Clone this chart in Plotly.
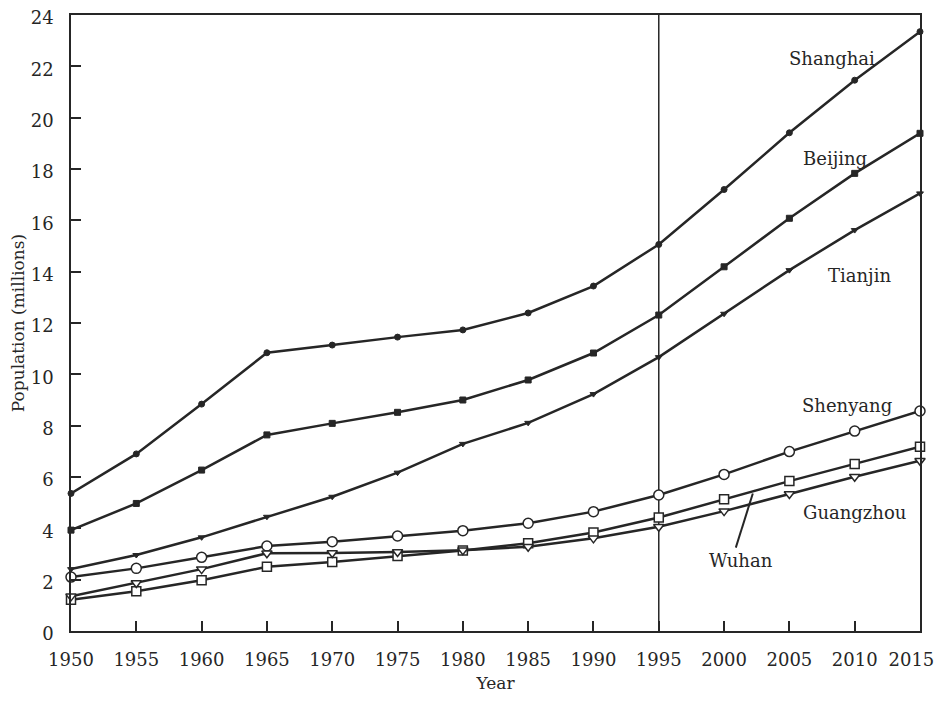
import plotly.graph_objects as go

years = [1950, 1955, 1960, 1965, 1970, 1975, 1980, 1985, 1990, 1995, 2000, 2005, 2010, 2015]
shanghai = [5.36, 6.9, 8.84, 10.84, 11.14, 11.45, 11.73, 12.39, 13.44, 15.06, 17.2, 19.41, 21.46, 23.35]
beijing = [3.93, 4.97, 6.27, 7.64, 8.09, 8.52, 9.0, 9.78, 10.83, 12.31, 14.19, 16.08, 17.83, 19.39]
tianjin = [2.41, 2.96, 3.65, 4.45, 5.23, 6.17, 7.29, 8.11, 9.23, 10.67, 12.36, 14.06, 15.62, 17.05]
shenyang = [2.1, 2.44, 2.87, 3.31, 3.48, 3.7, 3.91, 4.2, 4.65, 5.3, 6.1, 6.99, 7.79, 8.57]
wuhan = [1.22, 1.55, 1.98, 2.5, 2.69, 2.92, 3.14, 3.42, 3.84, 4.42, 5.13, 5.84, 6.51, 7.18]
guangzhou = [1.35, 1.87, 2.41, 3.03, 3.04, 3.08, 3.15, 3.28, 3.61, 4.06, 4.67, 5.34, 6.01, 6.63]
y_ticks = list(range(0, 25, 2))

INK = "#262626"
FONT = "DejaVu Serif"

# last year label padded so it is not clipped at the window edge
x_ticktext = [str(y) for y in years]
x_ticktext[-1] = x_ticktext[-1] + "&nbsp;&nbsp;&nbsp;"

series = [
    ("Shanghai", shanghai, dict(symbol="circle", size=6, color=INK, line=dict(color=INK, width=1))),
    ("Beijing", beijing, dict(symbol="square", size=6, color=INK, line=dict(color=INK, width=1))),
    ("Tianjin", tianjin, dict(symbol="triangle-down", size=6, color=INK, line=dict(color=INK, width=1))),
    ("Shenyang", shenyang, dict(symbol="circle", size=10, color="white", line=dict(color=INK, width=1.5))),
    ("Wuhan", wuhan, dict(symbol="square", size=9, color="white", line=dict(color=INK, width=1.5))),
    ("Guangzhou", guangzhou, dict(symbol="triangle-down", size=9, color="white", line=dict(color=INK, width=1.5))),
]

fig = go.Figure()
for name, vals, mk in series:
    fig.add_trace(go.Scatter(x=years, y=vals, name=name, mode="lines+markers",
                             line=dict(color=INK, width=2.5), marker=mk, cliponaxis=False))

fig.add_shape(type="line", x0=1995, x1=1995, y0=0, y1=24, xref="x", yref="y",
              line=dict(color=INK, width=1.5), layer="below")

labels = [
    ("Shanghai", 2008.27, 22.32),
    ("Beijing", 2008.5, 18.39),
    ("Tianjin", 2010.4, 13.87),
    ("Shenyang", 2009.4, 8.77),
    ("Guangzhou", 2009.95, 4.6),
    ("Wuhan", 2001.26, 2.73),
]
for txt, x, y in labels:
    fig.add_annotation(x=x, y=y, text=txt, showarrow=False,
                       font=dict(family=FONT, size=18, color=INK))

fig.add_shape(type="line", x0=2000.9, y0=3.25, x1=2002.2, y1=5.36, xref="x", yref="y",
              line=dict(color=INK, width=2))

fig.update_layout(
    width=927, height=685,
    margin=dict(l=63, r=15, t=7, b=62),
    paper_bgcolor="white", plot_bgcolor="white",
    showlegend=False,
    font=dict(family=FONT, size=18, color=INK),
)
fig.update_xaxes(range=[1950, 2015], tickvals=years, ticktext=x_ticktext,
                 ticks="inside", ticklen=10,
                 tickwidth=1.5, tickcolor=INK, showline=True, linecolor=INK, linewidth=1.5,
                 mirror=True, showgrid=False, zeroline=False, automargin=False,
                 ticklabelstandoff=12, ticklabeloverflow="allow",
                 title=dict(text="Year", font=dict(family=FONT, size=17), standoff=22),
                 tickfont=dict(family=FONT, size=18))
fig.update_yaxes(range=[0, 24], tickvals=y_ticks, ticks="inside", ticklen=10,
                 tickwidth=1.5, tickcolor=INK, showline=True, linecolor=INK, linewidth=1.5,
                 mirror=True, showgrid=False, zeroline=False, automargin=False,
                 ticklabelstandoff=12, ticklabeloverflow="allow", ticklabelshift=3,
                 title=dict(text="Population (millions)", font=dict(family=FONT, size=17), standoff=6),
                 tickfont=dict(family=FONT, size=18))

fig.write_html("out.html")
